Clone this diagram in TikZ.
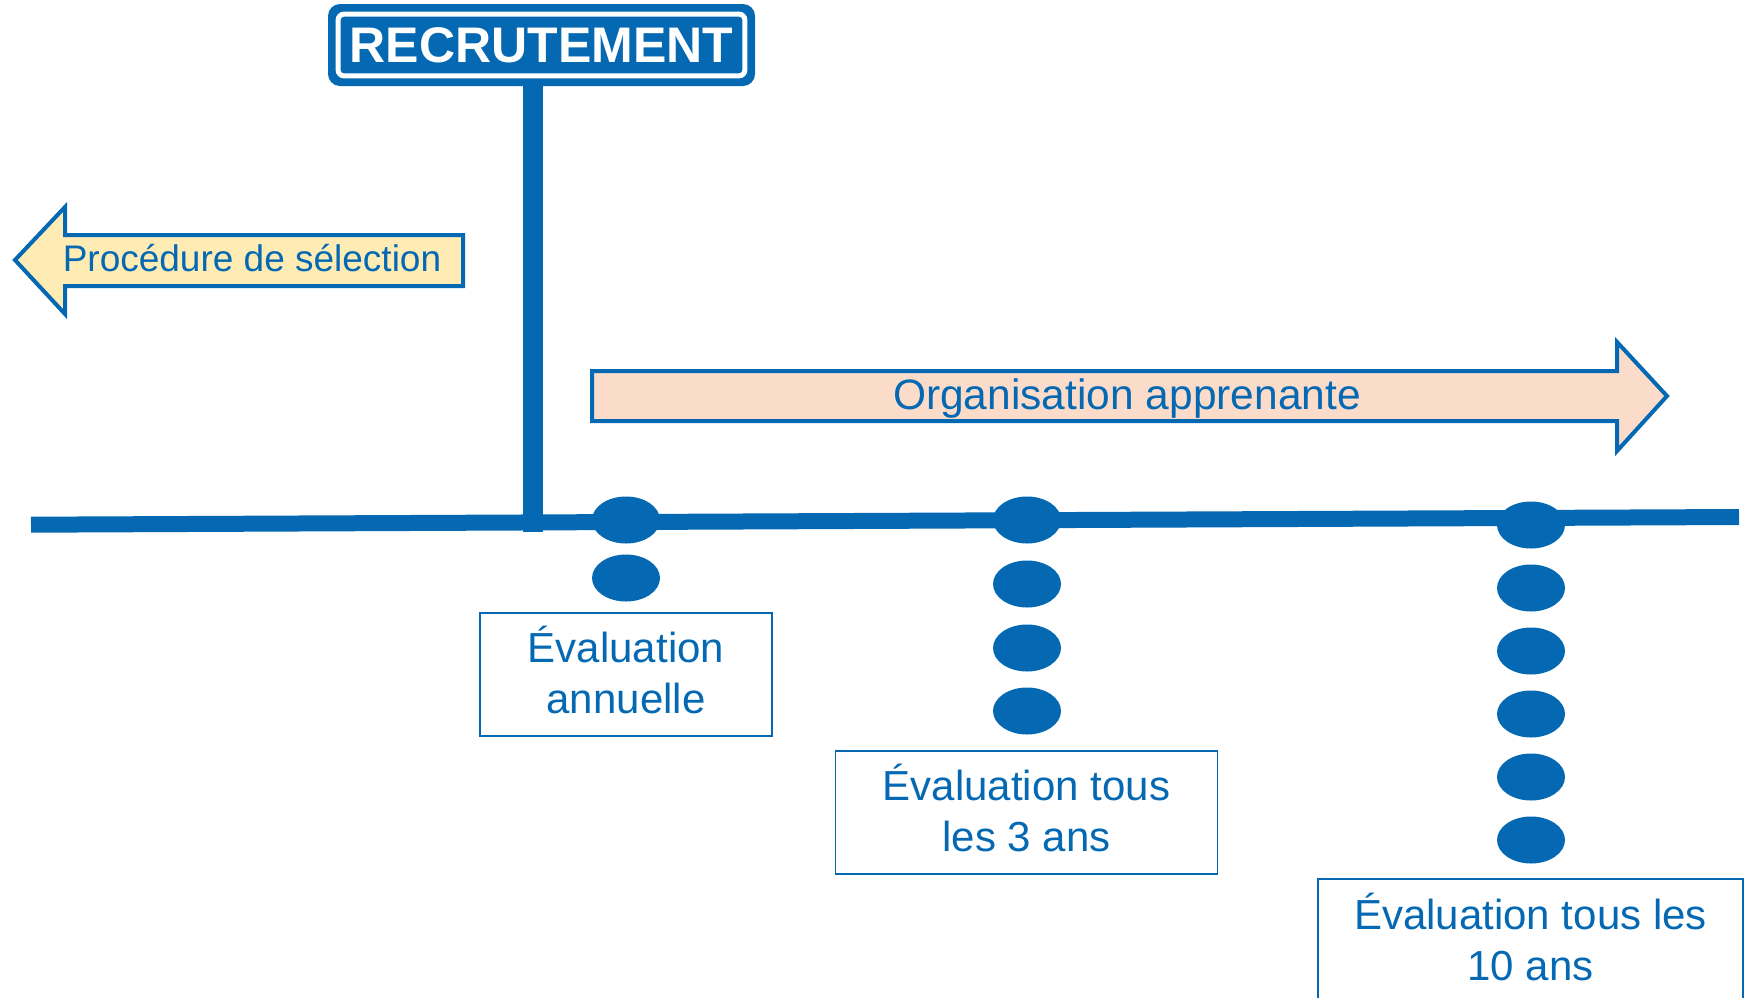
\documentclass[tikz,border=0pt]{standalone}
\usepackage{fontspec}
\setmainfont{Liberation Sans}
\usetikzlibrary{shapes.geometric}
\definecolor{bleu}{RGB}{4,104,178}
\definecolor{jaune}{RGB}{255,235,180}
\definecolor{peche}{RGB}{251,220,203}
\tikzset{
    evaldot/.style={ellipse, fill=bleu, inner sep=0pt, minimum width=34pt, minimum height=23.5pt},
    evalbox/.style={draw=bleu, line width=0.9pt, text=bleu, align=center, inner sep=0pt, text depth=5pt, font=\fontsize{21}{25.5}\selectfont},
    fleche/.style={draw=bleu, line width=2pt},
    fleche texte/.style={anchor=base, text=bleu, inner sep=0pt}
}
\begin{document}
\begin{tikzpicture}[x=0.5pt,y=-0.5pt]
            \path[use as bounding box, clip] (0,0) rectangle (1746,997);
            \node[fill=bleu, rounded corners=6pt, minimum width=213.5pt, minimum height=41pt, inner sep=0pt, text=white, font=\fontsize{25}{30}\selectfont\bfseries] (sign) at (541.5,45) {RECRUTEMENT};
            \draw[white, line width=2.5pt, rounded corners=3pt] ([shift={(10.5,10.5)}]sign.north west) rectangle ([shift={(-10.5,-10.5)}]sign.south east);
            \coordinate (debut) at (31,524.7);
            \coordinate (fin) at (1739,517);
            \coordinate (pied) at (533,532);
            \draw[bleu, line width=10pt] (pied |- sign.south) -- (pied);
            \draw[bleu, line width=8pt] (debut) -- (fin);
            \draw[fleche, fill=jaune] (463,235) -- (65,235) -- (65,207) -- (15,260) -- (65,314) -- (65,286) -- (463,286) -- cycle;
            \node[fleche texte, font=\fontsize{18.5}{22}\selectfont] (selection) at (252,271) {Procédure de sélection};
            \draw[fleche, fill=peche] (592,371) -- (1617,371) -- (1617,342) -- (1667,396) -- (1617,451) -- (1617,421) -- (592,421) -- cycle;
            \node[fleche texte, font=\fontsize{21.25}{25}\selectfont] (orga) at (1127,409) {Organisation apprenante};
            \node[evaldot] (annuel1) at (626,520) {};
            \node[evaldot] (annuel2) at (626,578) {};
            \node[evaldot] (trois1) at (1027,520) {};
            \node[evaldot] (trois2) at (1027,584) {};
            \node[evaldot] (trois3) at (1027,648) {};
            \node[evaldot] (trois4) at (1027,711) {};
            \node[evaldot] (dix1) at (1531,525) {};
            \node[evaldot] (dix2) at (1531,588) {};
            \node[evaldot] (dix3) at (1531,651) {};
            \node[evaldot] (dix4) at (1531,714) {};
            \node[evaldot] (dix5) at (1531,777) {};
            \node[evaldot] (dix6) at (1531,840) {};
            \node[evalbox, minimum width=146pt, minimum height=61.5pt] (annuel) at (626,674.5) {Évaluation\\annuelle};
            \node[evalbox, minimum width=191pt, minimum height=61.5pt] (trois) at (1026.5,812.5) {Évaluation tous\\les 3 ans};
            \node[evalbox, minimum width=212.5pt, minimum height=63pt] (dix) at (1530.5,942) {Évaluation tous les\\10 ans};
\end{tikzpicture}
\end{document}
